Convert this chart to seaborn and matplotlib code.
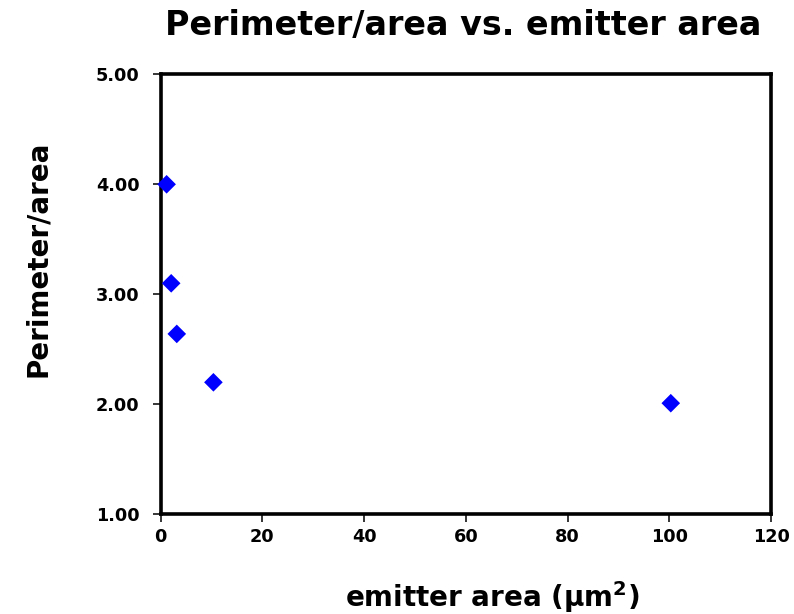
import matplotlib
matplotlib.use("Agg")
import matplotlib.pyplot as plt
import seaborn as sns
import pandas as pd
from matplotlib.ticker import FormatStrFormatter

# Emitter geometry data
emitter_area = [1.2, 2.1, 3.2, 10.4, 100.3]        # µm²
perimeter_per_area = [4.00, 3.10, 2.64, 2.20, 2.01]

x_ticks = [0, 20, 40, 60, 80, 100, 120]
y_ticks = [1.00, 2.00, 3.00, 4.00, 5.00]

sns.set_style("white")
plt.rcParams["font.family"] = ["DejaVu Sans"]
plt.rcParams["font.weight"] = "bold"
plt.rcParams["text.color"] = "black"
plt.rcParams["axes.labelcolor"] = "black"

df = pd.DataFrame({"area": emitter_area, "pa": perimeter_per_area})

W, H = 794, 614
fig = plt.figure(figsize=(W / 100, H / 100), dpi=100)
left, right, top, bottom = 160.5, 771.0, 74.3, 514.3
ax = fig.add_axes([left / W, 1 - bottom / H, (right - left) / W, (bottom - top) / H])

sns.scatterplot(data=df, x="area", y="pa", marker="D", s=90, color="#0000FF",
                edgecolor="none", linewidth=0, ax=ax, zorder=3, clip_on=False)

ax.set_xlim(0, 120)
ax.set_ylim(1, 5)
ax.set_xticks(x_ticks)
ax.set_yticks(y_ticks)
ax.yaxis.set_major_formatter(FormatStrFormatter("%.2f"))

for side in ["left", "right", "top", "bottom"]:
    ax.spines[side].set_visible(True)
    ax.spines[side].set_color("black")
    ax.spines[side].set_linewidth(2.6)

ax.tick_params(axis="both", which="major", direction="out", length=6, width=1.1,
               color="black", labelsize=12.7, labelcolor="black")
ax.tick_params(axis="x", pad=4, bottom=True, top=False)
ax.tick_params(axis="y", pad=9, left=True, right=False)
for lbl in ax.get_xticklabels() + ax.get_yticklabels():
    lbl.set_fontweight("bold")

ax.set_title("Perimeter/area vs. emitter area", fontsize=24, fontweight="bold",
             color="black", pad=0,
             x=(463.5 - left) / (right - left), y=(bottom - 35) / (bottom - top),
             va="baseline", ha="center")
ax.set_xlabel(r"emitter area (µm$^{\mathbf{2}}$)", fontsize=20, fontweight="bold",
              color="black", va="center", ha="center")
ax.xaxis.set_label_coords((492 - left) / (right - left), (bottom - 597) / (bottom - top))
ax.set_ylabel("Perimeter/area", fontsize=20, fontweight="bold", color="black",
              va="center", ha="center")
ax.yaxis.set_label_coords((38 - left) / (right - left), (bottom - 259) / (bottom - top))

fig.savefig("out.png", dpi=100, facecolor="white")
